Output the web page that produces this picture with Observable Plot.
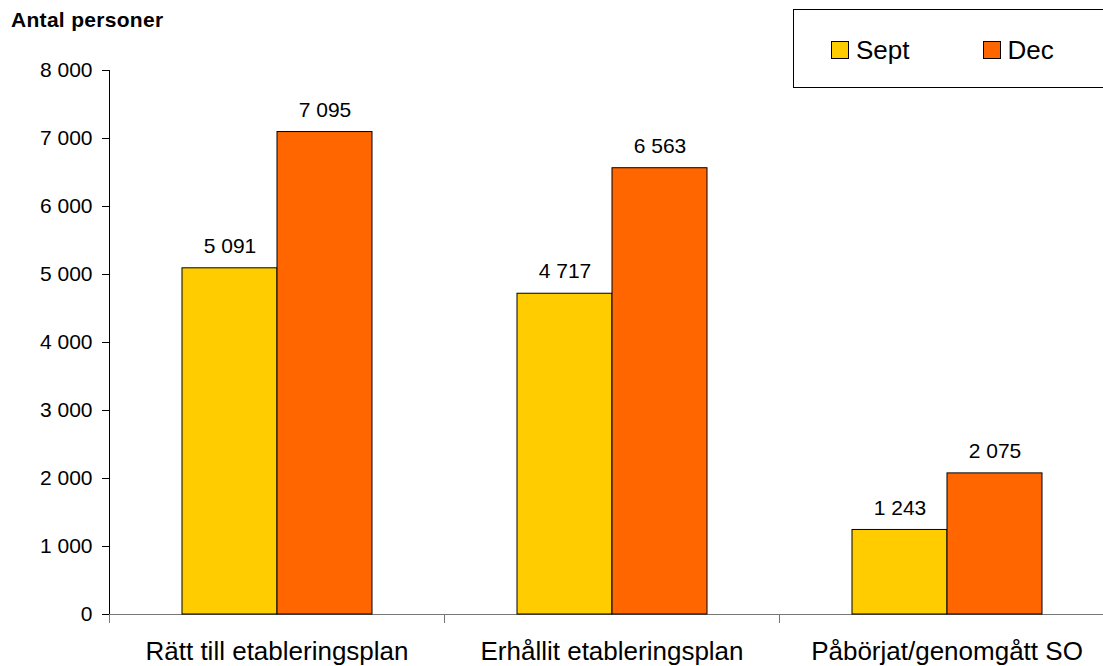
<!DOCTYPE html>
<html><head><meta charset="utf-8">
<script src="https://cdn.jsdelivr.net/npm/d3@7"></script>
<script src="https://cdn.jsdelivr.net/npm/@observablehq/plot@0.6"></script>
<style>
html,body{margin:0;padding:0;background:#fff;overflow:hidden;}
body{width:1103px;height:666px;position:relative;font-family:Arial,"Liberation Sans",sans-serif;color:#000;}
#chart svg{display:block;}
#title{position:absolute;left:11px;top:9px;font-weight:bold;font-size:21px;line-height:21px;letter-spacing:0.3px;}
#legend{position:absolute;left:793px;top:9px;width:297px;height:77px;border:1px solid #000;background:#fff;display:flex;align-items:center;padding-left:37px;box-sizing:content-box;}
#legend .item{display:flex;align-items:center;font-size:26px;line-height:26px;margin-right:73px;margin-top:3px;}
#legend .sw{width:16px;height:16px;border:1px solid #000;margin-right:7px;}
</style>
</head><body>
<div id="chart"></div>
<div id="title"></div>
<div id="legend"></div>
<script>
const titleText = "Antal personer";
const categories = ["Rätt till etableringsplan", "Erhållit etableringsplan", "Påbörjat/genomgått SO"];
const series = ["Sept", "Dec"];
const septValues = [5091, 4717, 1243];
const decValues = [7095, 6563, 2075];
const seriesColors = ["#FFCC00", "#FF6600"];
const yTicks = [0, 1000, 2000, 3000, 4000, 5000, 6000, 7000, 8000];

const valuesBySeries = {Sept: septValues, Dec: decValues};
const data = categories.flatMap((c, i) => series.map(s => ({category: c, series: s, value: valuesBySeries[s][i]})));
const fmt = v => d3.format(",")(v).replace(/,/g, " ");

const plot = Plot.plot({
  width: 1103, height: 666,
  marginTop: 70, marginBottom: 52, marginLeft: 108, marginRight: -11.5,
  style: {fontFamily: 'Arial, "Liberation Sans", sans-serif', fontSize: "21px", color: "#000", background: "transparent", overflow: "hidden"},
  fx: {domain: categories, padding: 0, label: null},
  x: {domain: series, paddingInner: 0, paddingOuter: 0.75, axis: null},
  y: {domain: [0, 8000], ticks: yTicks, tickFormat: fmt, tickSize: 7, tickPadding: 10, label: null, line: true},
  color: {domain: series, range: seriesColors},
  marks: [
    Plot.axisFx({anchor: "bottom", tickSize: 0, tickPadding: 27, fontSize: 26, label: null}),
    Plot.ruleY([0], {stroke: "#777"}),
    Plot.frame({anchor: "left", stroke: "#777", insetTop: 544, insetBottom: -8}),
    Plot.barY(data, {fx: "category", x: "series", y: "value", fill: "series", stroke: "#000", strokeWidth: 1}),
    Plot.text(data, {fx: "category", x: "series", y: "value", text: d => fmt(d.value), dy: -22, fontSize: 21, fill: "#000"})
  ]
});
document.getElementById("chart").appendChild(plot);
document.getElementById("title").textContent = titleText;

const legend = document.getElementById("legend");
series.forEach((s, i) => {
  const item = document.createElement("div");
  item.className = "item";
  const sw = document.createElement("div");
  sw.className = "sw";
  sw.style.background = seriesColors[i];
  const label = document.createElement("span");
  label.textContent = s;
  item.appendChild(sw); item.appendChild(label);
  legend.appendChild(item);
});
</script>
</body></html>
